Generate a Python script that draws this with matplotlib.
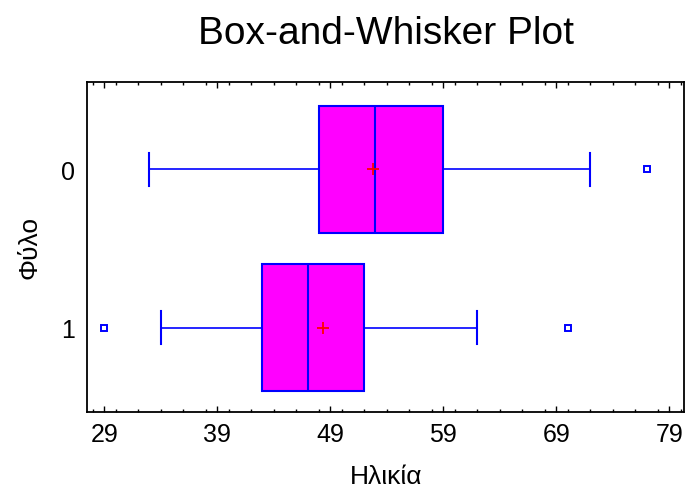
import matplotlib
matplotlib.use('Agg')
import matplotlib.pyplot as plt
from matplotlib.ticker import MultipleLocator

plt.rcParams['font.family'] = ['Liberation Sans', 'DejaVu Sans']

# Box-and-whisker summary per group
groups = ['0', '1']
whisker_low = [33, 34]
q1 = [48, 43]
median = [53, 47]
q3 = [59, 52]
whisker_high = [72, 62]
means = [52.75, 48.4]
outliers = [[77], [29, 70]]

stats = []
for i, g in enumerate(groups):
    stats.append({
        'label': g,
        'whislo': whisker_low[i],
        'q1': q1[i],
        'med': median[i],
        'q3': q3[i],
        'whishi': whisker_high[i],
        'mean': means[i],
        'fliers': outliers[i],
    })

blue = '#0000FF'
fig = plt.figure(figsize=(6.86, 4.89), dpi=100)
ax = fig.add_axes([0.1273, 0.1548, 0.8702, 0.6761])

ax.bxp(stats, positions=[0, 1], widths=0.8, capwidths=0.21,
       orientation='horizontal', patch_artist=True, showmeans=True,
       boxprops=dict(facecolor='#FF00FF', edgecolor=blue, linewidth=1.5),
       medianprops=dict(color=blue, linewidth=1.5),
       whiskerprops=dict(color=blue, linewidth=1.2),
       capprops=dict(color=blue, linewidth=1.5),
       meanprops=dict(marker='+', markeredgecolor='red', markersize=8,
                      markeredgewidth=1.3),
       flierprops=dict(marker='s', markerfacecolor='white',
                       markeredgecolor=blue, markersize=5,
                       markeredgewidth=1.4))

ax.set_xlim(27.5, 80.33)
ax.set_ylim(1.535, -0.555)
ax.set_xticks(range(29, 80, 10))
ax.xaxis.set_minor_locator(MultipleLocator(2))
ax.set_yticks([0, 1])
ax.set_yticklabels(groups)

ax.tick_params(axis='x', which='both', direction='in', top=True, bottom=True,
               labelsize=18, pad=7)
ax.tick_params(axis='x', which='major', length=4.5, width=1)
ax.tick_params(axis='x', which='minor', length=2.2, width=1)
ax.tick_params(axis='y', length=0, labelsize=18, pad=9)
for s in ax.spines.values():
    s.set_linewidth(1.3)

ax.set_xlabel('Ηλικία', fontsize=19, labelpad=13)
ax.set_ylabel('Φύλο', fontsize=19, labelpad=14)
fig.suptitle('Box-and-Whisker Plot', fontsize=28, x=0.562, y=0.967)

fig.savefig('out.png', dpi=100)
